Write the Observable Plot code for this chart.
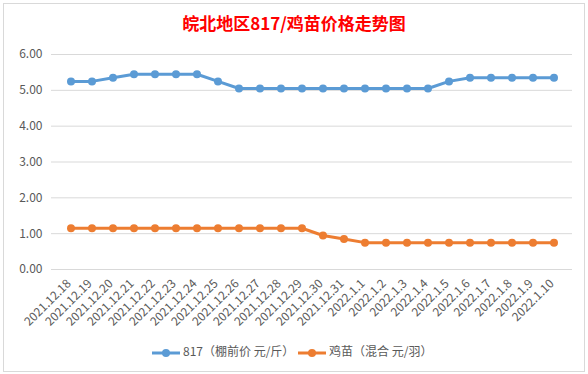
<!DOCTYPE html>
<html><head><meta charset="utf-8">
<script src="https://cdn.jsdelivr.net/npm/d3@7"></script>
<script src="https://cdn.jsdelivr.net/npm/@observablehq/plot@0.6"></script>
<style>
body{margin:0;background:#fff;width:588px;height:374px;overflow:hidden;position:relative;}
#frame{position:absolute;left:3px;top:3px;width:582px;height:369px;border:1px solid #d9d9d9;box-sizing:border-box;}
#title{position:absolute;left:0;top:10px;width:588px;text-align:center;font-family:"Noto Sans CJK SC";font-weight:bold;font-size:17px;color:#ff0000;line-height:26px;}
#chart{position:absolute;left:0;top:44px;}
#legend{position:absolute;left:0;top:342px;width:588px;height:18px;font-family:"Noto Sans CJK SC","Open Sans";font-size:12px;color:#595959;}
.item{position:absolute;top:0;height:18px;line-height:18px;white-space:nowrap;}
.item svg{vertical-align:middle;margin-right:3px;}
</style></head>
<body>
<div id="frame"></div>
<div id="title">皖北地区817/鸡苗价格走势图</div>
<div id="chart"></div>
<div id="legend"></div>
<script>
const dates = ["2021.12.18","2021.12.19","2021.12.20","2021.12.21","2021.12.22","2021.12.23","2021.12.24","2021.12.25","2021.12.26","2021.12.27","2021.12.28","2021.12.29","2021.12.30","2021.12.31","2022.1.1","2022.1.2","2022.1.3","2022.1.4","2022.1.5","2022.1.6","2022.1.7","2022.1.8","2022.1.9","2022.1.10"];
const price817 = [5.25,5.25,5.35,5.45,5.45,5.45,5.45,5.25,5.05,5.05,5.05,5.05,5.05,5.05,5.05,5.05,5.05,5.05,5.25,5.35,5.35,5.35,5.35,5.35];
const chick = [1.15,1.15,1.15,1.15,1.15,1.15,1.15,1.15,1.15,1.15,1.15,1.15,0.95,0.85,0.75,0.75,0.75,0.75,0.75,0.75,0.75,0.75,0.75,0.75];
const seriesNames = ["817（棚前价 元/斤）","鸡苗（混合 元/羽）"];
const colors = ["#5B9BD5","#ED7D31"];
const yTicks = [0,1,2,3,4,5,6];

const data = dates.flatMap((d,i)=>[
  {date:d, value:price817[i], series:seriesNames[0]},
  {date:d, value:chick[i], series:seriesNames[1]}
]);

const chart = Plot.plot({
  width:588, height:290,
  marginLeft:51, marginRight:16, marginTop:10, marginBottom:65,
  x:{type:"band", domain:dates, padding:0, label:null},
  y:{domain:[0,6], label:null},
  color:{domain:seriesNames, range:colors},
  style:{fontFamily:"'Noto Sans CJK SC','Open Sans',sans-serif", fontSize:"12px", color:"#595959", background:"transparent"},
  marks:[
    Plot.ruleY(yTicks,{stroke:"#d9d9d9", strokeWidth:1}),
    Plot.axisY({ticks:yTicks, tickSize:0, tickPadding:9, tickFormat:d3.format(".2f"), label:null, fill:"#595959"}),
    Plot.axisX({tickRotate:-45, tickSize:0, tickPadding:12, dx:-2, label:null, fill:"#595959"}),
    Plot.line(data,{x:"date", y:"value", z:"series", stroke:"series", strokeWidth:3}),
    Plot.dot(data,{x:"date", y:"value", fill:"series", r:4})
  ]
});
document.getElementById("chart").appendChild(chart);

const legend = document.getElementById("legend");
const lx = [152, 298];
seriesNames.forEach((name,i)=>{
  const div = document.createElement("div");
  div.className = "item";
  div.style.left = lx[i] + "px";
  div.innerHTML = `<svg width="28" height="10"><line x1="0" y1="5" x2="28" y2="5" stroke="${colors[i]}" stroke-width="3"/><circle cx="14" cy="5" r="4" fill="${colors[i]}"/></svg>${name}`;
  legend.appendChild(div);
});
</script>
</body></html>
